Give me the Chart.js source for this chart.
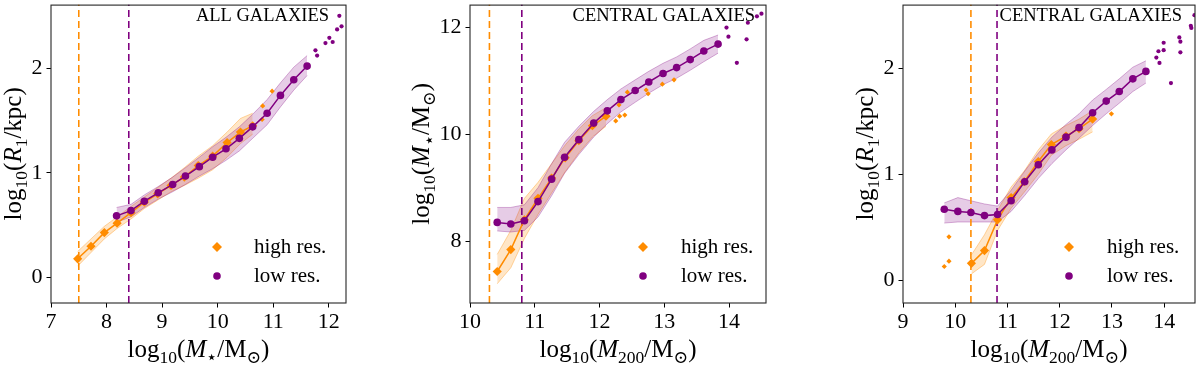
<!DOCTYPE html>
<html><head><meta charset="utf-8">
<title>Galaxy size / mass relations</title>
<script src="https://cdn.jsdelivr.net/npm/chart.js@4.4.1/dist/chart.umd.min.js"></script>
<style>
html,body{margin:0;padding:0;background:#fff;overflow:hidden;}
#wrap{position:relative;width:1200px;height:365px;}
#wrap canvas{position:absolute;top:0;}
</style></head><body>
<div id="wrap">
<canvas id="c1" width="400" height="365" style="left:0px;width:400px;height:365px"></canvas>
<canvas id="c2" width="400" height="365" style="left:400px;width:400px;height:365px"></canvas>
<canvas id="c3" width="400" height="365" style="left:800px;width:400px;height:365px"></canvas>
</div>
<script>
// ---------------- DATA ----------------
// Panel 1: ALL GALAXIES, log10(R1/kpc) vs log10(M*/Msun)
const P1_THRESH = [7.5, 8.4];           // [high res., low res.]
const P1_XTICKS = [7, 8, 9, 10, 11, 12];
const P1_YTICKS = [0, 1, 2];
const P1_HI_X  = [7.48, 7.72, 7.96, 8.19, 8.44, 8.68, 8.92, 9.16, 9.40, 9.65, 9.91, 10.17, 10.41, 10.63];
const P1_HI_Y  = [0.18, 0.30, 0.43, 0.52, 0.62, 0.72, 0.80, 0.88, 0.96, 1.07, 1.16, 1.29, 1.39, 1.45];
const P1_HI_LO = [0.11, 0.24, 0.37, 0.47, 0.56, 0.66, 0.74, 0.82, 0.88, 0.95, 1.03, 1.15, 1.28, 1.37];
const P1_HI_UP = [0.25, 0.37, 0.49, 0.58, 0.68, 0.77, 0.86, 0.95, 1.05, 1.16, 1.26, 1.39, 1.52, 1.57];
const P1_LO_X  = [8.18, 8.44, 8.68, 8.93, 9.19, 9.42, 9.67, 9.91, 10.15, 10.39, 10.63, 10.89, 11.13, 11.37, 11.61];
const P1_LO_Y  = [0.59, 0.64, 0.73, 0.81, 0.89, 0.97, 1.06, 1.15, 1.23, 1.33, 1.44, 1.57, 1.74, 1.89, 2.02];
const P1_LO_LO = [0.53, 0.58, 0.67, 0.75, 0.82, 0.89, 0.97, 1.04, 1.12, 1.21, 1.33, 1.46, 1.63, 1.79, 1.93];
const P1_LO_UP = [0.67, 0.70, 0.79, 0.87, 0.96, 1.05, 1.15, 1.25, 1.34, 1.44, 1.56, 1.70, 1.86, 2.01, 2.12];
const P1_HI_SX = [10.80, 10.81, 10.98];
const P1_HI_SY = [1.51, 1.64, 1.78];
const P1_LO_SX = [11.76, 11.79, 11.94, 12.01, 12.07, 12.15, 12.23, 12.19];
const P1_LO_SY = [2.17, 2.12, 2.24, 2.29, 2.25, 2.37, 2.40, 2.50];

// Panel 2: CENTRAL GALAXIES, log10(M*/Msun) vs log10(M200/Msun)
const P2_THRESH = [10.3, 10.8];
const P2_XTICKS = [10, 11, 12, 13, 14];
const P2_YTICKS = [8, 10, 12];
const P2_HI_X  = [10.42, 10.63, 10.84, 11.05, 11.26, 11.47, 11.68, 11.89, 12.10];
const P2_HI_Y  = [7.43, 7.84, 8.40, 8.80, 9.18, 9.56, 9.88, 10.16, 10.34];
const P2_HI_LO = [7.20, 7.50, 8.05, 8.50, 8.90, 9.30, 9.65, 9.95, 10.15];
const P2_HI_UP = [7.75, 8.20, 8.80, 9.10, 9.45, 9.80, 10.10, 10.35, 10.50];
const P2_LO_X  = [10.42, 10.63, 10.84, 11.05, 11.26, 11.46, 11.68, 11.91, 12.12, 12.33, 12.55, 12.76, 12.98, 13.19, 13.40, 13.61, 13.83];
const P2_LO_Y  = [8.35, 8.32, 8.38, 8.74, 9.16, 9.57, 9.90, 10.21, 10.44, 10.65, 10.82, 10.98, 11.14, 11.25, 11.40, 11.56, 11.69];
const P2_LO_LO = [8.19, 8.17, 8.20, 8.45, 8.85, 9.27, 9.62, 9.95, 10.20, 10.42, 10.60, 10.77, 10.93, 11.05, 11.20, 11.36, 11.52];
const P2_LO_UP = [8.63, 8.63, 8.68, 9.00, 9.45, 9.85, 10.15, 10.43, 10.65, 10.85, 11.02, 11.18, 11.33, 11.45, 11.60, 11.76, 11.86];
const P2_HI_SX = [12.12, 12.25, 12.30, 12.31, 12.39, 12.43, 12.72, 12.75, 12.97, 13.15];
const P2_HI_SY = [10.34, 10.25, 10.55, 10.34, 10.36, 10.79, 10.83, 10.76, 10.94, 11.02];
const P2_LO_SX = [13.96, 13.99, 14.12, 14.27, 14.29, 14.43, 14.50];
const P2_LO_SY = [12.00, 11.83, 11.34, 11.78, 12.09, 12.21, 12.26];

// Panel 3: CENTRAL GALAXIES, log10(R1/kpc) vs log10(M200/Msun)
const P3_THRESH = [10.3, 10.8];
const P3_XTICKS = [9, 10, 11, 12, 13, 14];
const P3_YTICKS = [0, 1, 2];
const P3_HI_X  = [10.31, 10.56, 10.81, 11.07, 11.32, 11.59, 11.84, 12.12, 12.37, 12.63];
const P3_HI_Y  = [0.16, 0.28, 0.57, 0.78, 0.93, 1.12, 1.28, 1.36, 1.43, 1.52];
const P3_HI_LO = [0.06, 0.15, 0.47, 0.68, 0.83, 1.00, 1.18, 1.27, 1.33, 1.40];
const P3_HI_UP = [0.24, 0.43, 0.66, 0.88, 1.03, 1.23, 1.38, 1.46, 1.52, 1.60];
const P3_LO_X  = [9.79, 10.05, 10.30, 10.56, 10.81, 11.07, 11.33, 11.59, 11.85, 12.12, 12.37, 12.63, 12.89, 13.14, 13.40, 13.65];
const P3_LO_Y  = [0.67, 0.65, 0.64, 0.61, 0.62, 0.75, 0.93, 1.09, 1.23, 1.35, 1.44, 1.58, 1.69, 1.78, 1.90, 1.97];
const P3_LO_LO = [0.54, 0.55, 0.55, 0.55, 0.55, 0.65, 0.80, 0.96, 1.10, 1.23, 1.34, 1.46, 1.57, 1.67, 1.78, 1.86];
const P3_LO_UP = [0.73, 0.78, 0.75, 0.72, 0.70, 0.85, 1.03, 1.20, 1.35, 1.47, 1.57, 1.70, 1.80, 1.90, 2.01, 2.07];
const P3_HI_SX = [9.79, 9.88, 9.88, 12.99];
const P3_HI_SY = [0.13, 0.18, 0.41, 1.57];
const P3_LO_SX = [13.85, 13.89, 13.91, 13.99, 13.99, 14.13, 14.29, 14.31, 14.31, 14.51, 14.52, 14.58];
const P3_LO_SY = [2.10, 2.16, 2.05, 2.24, 2.17, 1.86, 2.29, 2.25, 2.15, 2.40, 2.38, 2.50];

const LEGEND_LABELS = ['high res.', 'low res.'];
const TITLES = ['ALL GALAXIES', 'CENTRAL GALAXIES', 'CENTRAL GALAXIES'];

// ---------------- STYLE ----------------
const ORANGE = '#ff8c00', PURPLE = '#800080';
const SERIF = '"Liberation Serif", "DejaVu Serif", serif';

const T_R1 = [['log','n'],['10','s'],['(','n'],['R','i'],['1','s'],['/kpc)','n']];
const T_MS = [['log','n'],['10','s'],['(','n'],['M','i'],['\u22C6','s'],['/M','n'],['\u2299','s'],[')','n']];
const T_MH = [['log','n'],['10','s'],['(','n'],['M','i'],['200','s'],['/M','n'],['\u2299','s'],[')','n']];

function pts(xs, ys){ return xs.map((x,i)=>({x:x, y:ys[i]})); }

function drawRich(ctx, segs, x, y, rot){
  const F = 25, S = 17.5, OFF = 6;
  const fontOf = k => (k==='i' ? 'italic ' : '') + (k==='s' ? S : F) + 'px ' + SERIF;
  let w = 0; const ws = [];
  for (const [t,k] of segs){ ctx.font = fontOf(k); const m = ctx.measureText(t).width; ws.push(m); w += m; }
  ctx.save(); ctx.translate(x, y); ctx.rotate(rot);
  ctx.textBaseline = 'alphabetic'; ctx.textAlign = 'left'; ctx.fillStyle = '#000';
  let cx = -w/2;
  segs.forEach(([t,k],i)=>{ ctx.font = fontOf(k); ctx.fillText(t, cx, k==='s' ? OFF : 0); cx += ws[i]; });
  ctx.restore();
}

const deco = {
  id: 'deco',
  afterDraw(chart, args, o){
    const ctx = chart.ctx, a = chart.chartArea;
    ctx.save();
    ctx.strokeStyle = '#262626'; ctx.lineWidth = 1.1;
    ctx.strokeRect(a.left, a.top + 0.5, a.right - a.left, a.bottom - a.top - 0.5);
    // panel title
    ctx.fillStyle = '#000'; ctx.font = '18.5px ' + SERIF;
    ctx.textAlign = 'right'; ctx.textBaseline = 'middle';
    ctx.fillText(o.title, o.titleX, 16);
    // legend
    const rows = [247, 276];
    ctx.fillStyle = ORANGE; ctx.beginPath();
    const r = 5, mx = o.legX, my = rows[0];
    ctx.moveTo(mx - r, my); ctx.lineTo(mx, my - r); ctx.lineTo(mx + r, my); ctx.lineTo(mx, my + r); ctx.closePath(); ctx.fill();
    ctx.fillStyle = PURPLE; ctx.beginPath(); ctx.arc(o.legX, rows[1], 3.8, 0, Math.PI*2); ctx.fill();
    ctx.fillStyle = '#000'; ctx.font = '21px ' + SERIF; ctx.textAlign = 'left'; ctx.textBaseline = 'middle';
    ctx.fillText(LEGEND_LABELS[0], o.legTX, rows[0]);
    ctx.fillText(LEGEND_LABELS[1], o.legTX, rows[1]);
    // axis titles
    drawRich(ctx, o.xTitle, (a.left + a.right)/2, 357, 0);
    drawRich(ctx, o.yTitle, o.yTitleX, (a.top + a.bottom)/2, -Math.PI/2);
    ctx.restore();
  }
};

function panel(id, o){
  const ox = o.ox;
  const vline = (x, c) => ({data:[{x:x, y:o.ymin},{x:x, y:o.ymax}], borderColor:c, borderWidth:1.6, borderDash:[7,4],
    pointRadius:0, showLine:true, fill:false, order:5});
  const datasets = [
    vline(o.thr[0], ORANGE),
    vline(o.thr[1], PURPLE),
    {data:pts(o.hiX, o.hiLo), borderColor:'rgba(255,140,0,0.35)', borderWidth:1, pointRadius:0, fill:false, order:7},
    {data:pts(o.hiX, o.hiUp), borderColor:'rgba(255,140,0,0.35)', borderWidth:1, pointRadius:0, fill:'-1', backgroundColor:'rgba(255,140,0,0.22)', order:7},
    {data:pts(o.loX, o.loLo), borderColor:'rgba(128,0,128,0.3)', borderWidth:1, pointRadius:0, fill:false, order:6},
    {data:pts(o.loX, o.loUp), borderColor:'rgba(128,0,128,0.3)', borderWidth:1, pointRadius:0, fill:'-1', backgroundColor:'rgba(128,0,128,0.2)', order:6},
    {label:'high res.', data:pts(o.hiX, o.hiY), borderColor:ORANGE, borderWidth:1.5, pointStyle:'rectRot', pointRadius:4.6,
      pointBackgroundColor:ORANGE, pointBorderWidth:0, fill:false, order:2},
    {label:'low res.', data:pts(o.loX, o.loY), borderColor:PURPLE, borderWidth:1.5, pointStyle:'circle', pointRadius:3.8,
      pointBackgroundColor:PURPLE, pointBorderWidth:0, fill:false, order:1},
    {data:pts(o.hsX, o.hsY), showLine:false, pointStyle:'rectRot', pointRadius:2.6, pointBackgroundColor:ORANGE, pointBorderWidth:0, order:4},
    {data:pts(o.lsX, o.lsY), showLine:false, pointStyle:'circle', pointRadius:2.1, pointBackgroundColor:PURPLE, pointBorderWidth:0, order:3}
  ];
  const tickFont = {family: SERIF, size: 22};
  new Chart(document.getElementById(id), {
    type: 'line',
    data: {datasets: datasets},
    plugins: [deco],
    options: {
      responsive: false, animation: false, devicePixelRatio: 1,
      elements: {line: {tension: 0}},
      layout: {padding: {top: 1, right: 400 - (o.right - ox), left: 0, bottom: 0}},
      plugins: {
        legend: {display: false}, tooltip: {enabled: false},
        deco: {title: o.title, titleX: o.titleX - ox, legX: o.legX - ox, legTX: o.legTX - ox,
               xTitle: o.xTitle, yTitle: o.yTitle, yTitleX: o.yTitleX - ox}
      },
      scales: {
        x: {type: 'linear', min: o.xmin, max: o.xmax,
            afterBuildTicks: s => { s.ticks = o.xt.map(v => ({value: v})); },
            afterFit: s => { s.height = 62; s.paddingLeft = 0; s.paddingRight = 0; },
            grid: {drawOnChartArea: false, drawTicks: true, tickLength: 4.5, color: '#000', lineWidth: 1},
            border: {display: false},
            ticks: {font: tickFont, color: '#000', padding: 2, maxRotation: 0, autoSkip: false}},
        y: {type: 'linear', min: o.ymin, max: o.ymax,
            afterBuildTicks: s => { s.ticks = o.yt.map(v => ({value: v})); },
            afterFit: s => { s.width = o.left - ox; s.paddingTop = 0; s.paddingBottom = 0; },
            grid: {drawOnChartArea: false, drawTicks: true, tickLength: 4.5, color: '#000', lineWidth: 1},
            border: {display: false},
            ticks: {font: tickFont, color: '#000', padding: 4, autoSkip: false}}
      }
    }
  });
}

panel('c1', {ox:0, left:51, right:346, xmin:7, xmax:12.31, ymin:-0.242, ymax:2.607, xt:P1_XTICKS, yt:P1_YTICKS,
  thr:P1_THRESH, hiX:P1_HI_X, hiY:P1_HI_Y, hiLo:P1_HI_LO, hiUp:P1_HI_UP, loX:P1_LO_X, loY:P1_LO_Y, loLo:P1_LO_LO, loUp:P1_LO_UP,
  hsX:P1_HI_SX, hsY:P1_HI_SY, lsX:P1_LO_SX, lsY:P1_LO_SY,
  title:TITLES[0], titleX:329, legX:217, legTX:254, xTitle:T_MS, yTitle:T_R1, yTitleX:21});

panel('c2', {ox:400, left:470, right:766, xmin:10, xmax:14.57, ymin:6.84, ymax:12.43, xt:P2_XTICKS, yt:P2_YTICKS,
  thr:P2_THRESH, hiX:P2_HI_X, hiY:P2_HI_Y, hiLo:P2_HI_LO, hiUp:P2_HI_UP, loX:P2_LO_X, loY:P2_LO_Y, loLo:P2_LO_LO, loUp:P2_LO_UP,
  hsX:P2_HI_SX, hsY:P2_HI_SY, lsX:P2_LO_SX, lsY:P2_LO_SY,
  title:TITLES[1], titleX:755, legX:643, legTX:681, xTitle:T_MH, yTitle:T_MS, yTitleX:429});

panel('c3', {ox:800, left:903, right:1195, xmin:9, xmax:14.59, ymin:-0.214, ymax:2.60, xt:P3_XTICKS, yt:P3_YTICKS,
  thr:P3_THRESH, hiX:P3_HI_X, hiY:P3_HI_Y, hiLo:P3_HI_LO, hiUp:P3_HI_UP, loX:P3_LO_X, loY:P3_LO_Y, loLo:P3_LO_LO, loUp:P3_LO_UP,
  hsX:P3_HI_SX, hsY:P3_HI_SY, lsX:P3_LO_SX, lsY:P3_LO_SY,
  title:TITLES[2], titleX:1182, legX:1069, legTX:1107, xTitle:T_MH, yTitle:T_R1, yTitleX:873});
</script>
</body></html>
